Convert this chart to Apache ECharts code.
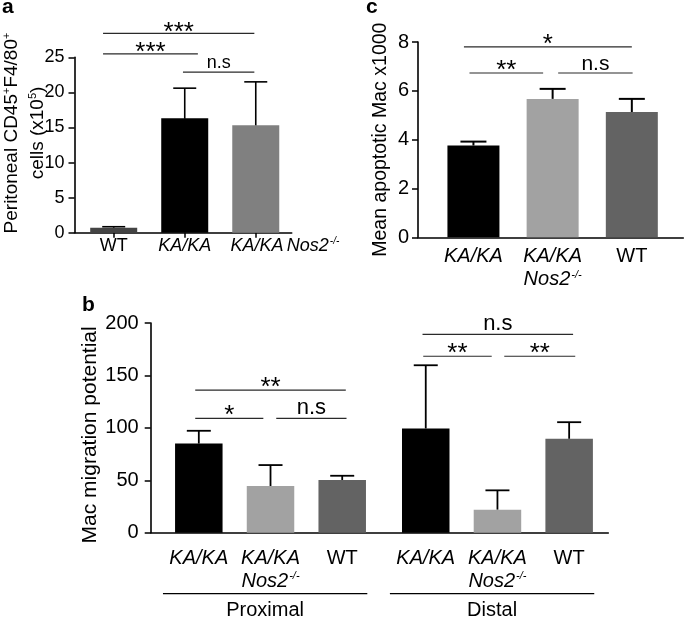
<!DOCTYPE html>
<html><head><meta charset="utf-8">
<script src="https://cdn.jsdelivr.net/npm/echarts@6/dist/echarts.min.js"></script>
<style>html,body{margin:0;padding:0;background:#fff}#main{width:685px;height:618px}</style>
</head><body><div id="main"></div>
<script>
// ---------------- DATA ----------------
// Panel a
const A_CATS = ['WT', 'KA/KA', 'KA/KA Nos2'];
const A_MEAN = [0.7, 16.3, 15.3];
const A_SEM = [0.15, 4.3, 6.2];
const A_TICKS = [0, 5, 10, 15, 20, 25];
// [xFrom, xTo, y, label]
const A_SIG = [[-0.15, 1.98, 28.4, '***'], [-0.15, 1.185, 25.5, '***'], [0.975, 1.98, 22.9, 'n.s']];

// Panel b
const B_GROUPS = ['Proximal', 'Distal'];
const B_CATS = ['KA/KA', 'KA/KA Nos2', 'WT'];
const B_MEAN = [85, 44.5, 50.2, 99.4, 21.9, 89.5];
const B_SEM = [12.2, 20, 4.1, 60.3, 18.5, 15.9];
const B_TICKS = [0, 50, 100, 150, 200];
const B_SIG = [[-0.05, 2.05, 136, '**'], [-0.05, 0.9, 109, '*'], [1.08, 2.06, 109, 'n.s'],
               [3.12, 5.22, 189.2, 'n.s'], [3.13, 4.085, 168.3, '**'], [4.26, 5.25, 168.3, '**']];

// Panel c
const C_CATS = ['KA/KA', 'KA/KA Nos2', 'WT'];
const C_MEAN = [3.76, 5.67, 5.13];
const C_SEM = [0.16, 0.41, 0.54];
const C_TICKS = [0, 2, 4, 6, 8];
const C_SIG = [[-0.12, 2.0, 7.8, '*'], [-0.05, 0.88, 6.73, '**'], [1.07, 2.01, 6.73, 'n.s']];

// ---------------- STYLE / LAYOUT ----------------
const FONT = '"Liberation Sans", Arial, Helvetica, sans-serif';
const A_COLORS = ['#444444', '#000000', '#808080'];
const BC_COLORS = ['#000000', '#a2a2a2', '#636363'];
const B_GROUP_STEP = 3.165;
const A_LONG_LABEL_SHIFT = 0.41;
const A_POS = A_CATS.map((c, i) => i);
const A_LABEL_POS = A_POS.map((p, i) => (A_CATS[i].indexOf('Nos2') >= 0 ? p + A_LONG_LABEL_SHIFT : p));
const C_POS = C_CATS.map((c, i) => i);
const B_POS = [];
B_GROUPS.forEach((g, gi) => B_CATS.forEach((c, i) => B_POS.push(gi * B_GROUP_STEP + i)));

function richFor(fs) {
  return {
    n: {fontSize: fs, fontFamily: FONT, color: '#000', lineHeight: fs + 3},
    i: {fontSize: fs, fontFamily: FONT, fontStyle: 'italic', color: '#000', lineHeight: fs + 3},
    sup: {fontSize: Math.round(fs * 0.55), fontFamily: FONT, fontStyle: 'italic', color: '#000', verticalAlign: 'top', padding: [1, 0, 0, 1]}
  };
}
function catLabel(name, oneLine) {
  if (name === 'WT') return '{n|WT}';
  if (name === 'KA/KA') return '{i|KA/KA}';
  if (oneLine) return '{i|KA/KA} {i|Nos2}{sup|-/-}';
  return '{i|KA/KA}\n{i|Nos2}{sup|-/-}';
}
function labelAt(posArr, cats, v, oneLine) {
  for (let i = 0; i < posArr.length; i++) {
    if (Math.abs(posArr[i] - v) < 1e-6) return catLabel(cats[i % cats.length], oneLine);
  }
  return '';
}

function errRender(capHalf, both, lw) {
  return function (params, api) {
    const x = api.value(0), m = api.value(1), s = api.value(2);
    const top = api.coord([x, m + s]);
    const mid = api.coord([x, m]);
    const st = {stroke: '#000', lineWidth: lw};
    const ch = [
      {type: 'line', shape: {x1: top[0], y1: top[1], x2: mid[0], y2: mid[1]}, style: st},
      {type: 'line', shape: {x1: top[0] - capHalf, y1: top[1], x2: top[0] + capHalf, y2: top[1]}, style: st}
    ];
    if (both) {
      const bot = api.coord([x, m - s]);
      ch.push({type: 'line', shape: {x1: mid[0], y1: mid[1], x2: bot[0], y2: bot[1]}, style: st});
      ch.push({type: 'line', shape: {x1: bot[0] - capHalf, y1: bot[1], x2: bot[0] + capHalf, y2: bot[1]}, style: st});
    }
    return {type: 'group', children: ch};
  };
}
function sigRender(arr, nsSize, nsOff, starOff) {
  return function (params, api) {
    const d = arr[params.dataIndex];
    const p1 = api.coord([d[0], d[2]]);
    const p2 = api.coord([d[1], d[2]]);
    const star = d[3].indexOf('*') >= 0;
    return {type: 'group', children: [
      {type: 'line', shape: {x1: p1[0], y1: p1[1], x2: p2[0], y2: p1[1]}, style: {stroke: '#2a2a2a', lineWidth: 1.2}},
      {type: 'text', x: (p1[0] + p2[0]) / 2, y: p1[1] - (star ? starOff : nsOff),
        style: {text: d[3], fontSize: star ? 26 : nsSize, fontFamily: FONT, fill: '#000', align: 'center', verticalAlign: 'middle'}}
    ]};
  };
}
function groupRender(params, api) {
  const gi = params.dataIndex;
  const first = B_POS[gi * B_CATS.length], last = B_POS[gi * B_CATS.length + B_CATS.length - 1];
  const p1 = api.coord([first - 0.5, 0]);
  const p2 = api.coord([last + 0.35, 0]);
  return {type: 'group', children: [
    {type: 'line', shape: {x1: p1[0], y1: p1[1] + 61, x2: p2[0], y2: p1[1] + 61}, style: {stroke: '#000', lineWidth: 1.2}},
    {type: 'text', x: (p1[0] + p2[0]) / 2, y: p1[1] + 78,
      style: {text: B_GROUPS[gi], fontSize: 20, fontFamily: FONT, fill: '#000', align: 'center', verticalAlign: 'middle'}}
  ]};
}

function xAx(gi, min, max, tickPos, labelPos, cats, fs, margin, ticks, oneLine) {
  return {
    gridIndex: gi, type: 'value', min: min, max: max,
    axisLine: {onZero: false, lineStyle: {color: '#000', width: 1.6}},
    axisTick: {show: ticks, customValues: tickPos, length: 5, lineStyle: {color: '#000', width: 1.5}},
    axisLabel: {customValues: labelPos, margin: margin, rich: richFor(fs), hideOverlap: false,
      formatter: v => labelAt(labelPos, cats, v, oneLine)},
    splitLine: {show: false}
  };
}
function yAx(gi, max, interval, fs, margin, name, nameGap, nameFs, nameRich, namePad) {
  return {
    gridIndex: gi, type: 'value', min: 0, max: max, interval: interval,
    axisLine: {show: true, onZero: false, lineStyle: {color: '#000', width: 1.6}},
    axisTick: {show: true, length: 6, lineStyle: {color: '#000', width: 1.5}},
    axisLabel: {fontSize: fs, fontFamily: FONT, color: '#000', margin: margin},
    splitLine: {show: false},
    name: name, nameLocation: 'middle', nameGap: nameGap, nameMoveOverlap: false,
    nameTextStyle: {fontSize: nameFs, fontFamily: FONT, color: '#000', rich: nameRich, padding: namePad}
  };
}

const nameRichA = {
  t: {fontSize: 19, fontFamily: FONT, color: '#000', lineHeight: 26},
  s: {fontSize: 11, fontFamily: FONT, color: '#000', verticalAlign: 'top', padding: [3, 0, 0, 0]}
};
const titleStyle = {fontSize: 21, fontWeight: 'bold', fontFamily: FONT, color: '#000'};

const option = {
  animation: false,
  backgroundColor: '#fff',
  title: [
    {text: 'a', left: 2, top: -3, padding: 0, textStyle: titleStyle},
    {text: 'c', left: 366, top: -3, padding: 0, textStyle: titleStyle},
    {text: 'b', left: 82, top: 295, padding: 0, textStyle: titleStyle}
  ],
  grid: [
    {left: 74.5, top: 57.3, width: 217.2, height: 175.4},
    {left: 150.7, top: 323, width: 457.6, height: 209.7},
    {left: 418, top: 42, width: 265.3, height: 195.3}
  ],
  xAxis: [
    xAx(0, -0.552, 2.506, A_POS, A_LABEL_POS, A_CATS, 18, 3, true, true),
    xAx(1, -0.671, 5.711, B_POS, B_POS, B_CATS, 20, 14, false, false),
    xAx(2, -0.70, 2.65, C_POS, C_POS, C_CATS, 20, 8, false, false)
  ],
  yAxis: [
    yAx(0, 25, 5, 18, 10, '{t|Peritoneal CD45}{s|+}{t|F4/80}{s|+}\n{t|cells (x10}{s|5}{t|)}', 24, 19, nameRichA, [0, 0, 0, 24]),
    yAx(1, 200, 50, 20, 12, 'Mac migration potential', 50, 21, undefined, [0, 14, 0, 0]),
    yAx(2, 8, 2, 20, 9, 'Mean apoptotic Mac x1000', 27, 19.5, undefined, [0, 0, 0, 0])
  ],
  series: [
    {type: 'bar', xAxisIndex: 0, yAxisIndex: 0, barWidth: 47,
      data: A_MEAN.map((v, i) => ({value: [A_POS[i], v], itemStyle: {color: A_COLORS[i]}}))},
    {type: 'custom', xAxisIndex: 0, yAxisIndex: 0, clip: false, renderItem: errRender(11.5, true, 1.6),
      data: A_MEAN.map((v, i) => [A_POS[i], v, A_SEM[i]])},
    {type: 'custom', xAxisIndex: 0, yAxisIndex: 0, clip: false, renderItem: sigRender(A_SIG, 18, 9, 1),
      data: A_SIG.map(d => [d[0], d[2]])},

    {type: 'bar', xAxisIndex: 1, yAxisIndex: 1, barWidth: 47.5,
      data: B_MEAN.map((v, i) => ({value: [B_POS[i], v], itemStyle: {color: BC_COLORS[i % 3]}}))},
    {type: 'custom', xAxisIndex: 1, yAxisIndex: 1, clip: false, renderItem: errRender(12, false, 1.8),
      data: B_MEAN.map((v, i) => [B_POS[i], v, B_SEM[i]])},
    {type: 'custom', xAxisIndex: 1, yAxisIndex: 1, clip: false, renderItem: sigRender(B_SIG, 22, 10.5, 2.5),
      data: B_SIG.map(d => [d[0], d[2]])},
    {type: 'custom', xAxisIndex: 1, yAxisIndex: 1, clip: false, renderItem: groupRender,
      data: B_GROUPS.map((g, gi) => [B_POS[gi * B_CATS.length], 0])},

    {type: 'bar', xAxisIndex: 2, yAxisIndex: 2, barWidth: 52,
      data: C_MEAN.map((v, i) => ({value: [C_POS[i], v], itemStyle: {color: BC_COLORS[i]}}))},
    {type: 'custom', xAxisIndex: 2, yAxisIndex: 2, clip: false, renderItem: errRender(13, false, 2),
      data: C_MEAN.map((v, i) => [C_POS[i], v, C_SEM[i]])},
    {type: 'custom', xAxisIndex: 2, yAxisIndex: 2, clip: false, renderItem: sigRender(C_SIG, 21, 9, 2),
      data: C_SIG.map(d => [d[0], d[2]])}
  ]
};
const chart = echarts.init(document.getElementById('main'), null, {renderer: 'canvas'});
chart.setOption(option);
</script></body></html>
